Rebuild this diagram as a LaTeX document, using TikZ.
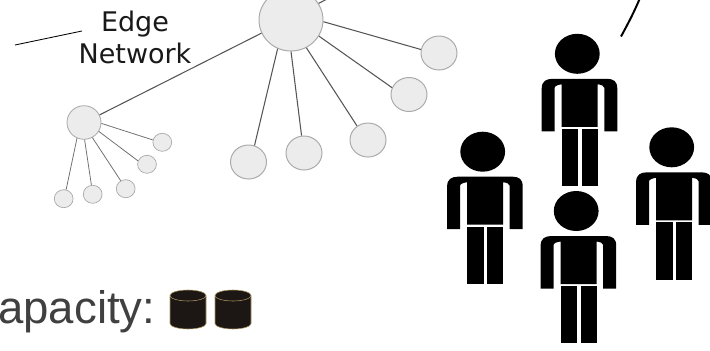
\documentclass[tikz,border=0pt]{standalone}
\usepackage{fontspec}
\usepackage{xcolor}
\usetikzlibrary{shapes.geometric, positioning}
\setmainfont{DejaVu Sans}
\newfontfamily\capfont{Liberation Sans}
\definecolor{cNode}{RGB}{236,236,236}
\definecolor{cNodeLine}{RGB}{170,170,170}
\definecolor{cEdge}{RGB}{85,85,85}
\definecolor{cDisk}{RGB}{28,22,20}
\definecolor{cRim}{RGB}{170,150,95}
\definecolor{cCap}{RGB}{64,64,64}
\tikzset{
	hubnode/.style ={ellipse, draw=cNodeLine, fill=cNode, line width=0.7pt, inner sep=0pt, minimum width=1.6cm, minimum height=1.55cm},
	leafnode/.style={ellipse, draw=cNodeLine, fill=cNode, line width=0.7pt, inner sep=0pt, minimum width=0.9cm, minimum height=0.85cm},
	midnode/.style ={ellipse, draw=cNodeLine, fill=cNode, line width=0.6pt, inner sep=0pt, minimum width=0.85cm, minimum height=0.84cm},
	tipnode/.style ={ellipse, draw=cNodeLine, fill=cNode, line width=0.5pt, inner sep=0pt, minimum width=0.47cm, minimum height=0.45cm},
	edgeline/.style={draw=cEdge, line width=0.75pt},
	thinedge/.style={draw=cEdge!85, line width=0.55pt},
	% one standing figure, origin at the head centre
	person/.pic={
		\fill[black] (0,0) ellipse (22.4 and 20);
		\fill[black] (-35.6,77.5) -- (-35.6,35) .. controls (-35.6,27) and (-31,25.3) .. (-25,25) -- (30,25)
			.. controls (36,25.3) and (40,27) .. (40,35) -- (40,77.5) -- (27,77.5) -- (27,34)
			.. controls (27,32) and (24,31) .. (20.4,30.5) -- (20.4,73) -- (-15.6,73) -- (-15.6,30.5)
			.. controls (-19,31) and (-22.6,32) .. (-22.6,34) -- (-22.6,77.5) -- cycle;
		\fill[black] (-15.6,74.8) rectangle (1,132.4);
		\fill[black] (4.4,74.8) rectangle (20.4,132.4);
	},
}
\begin{document}
\begin{tikzpicture}[x=0.025cm, y=-0.025cm]
	\clip (0,0) rectangle (710,350);
	% edge network
	\node[hubnode] (hub) at (291,20) {};
	\node[leafnode] (la) at (439,53) {};
	\node[leafnode] (lb) at (409,94.5) {};
	\node[leafnode] (lc) at (368,140) {};
	\node[leafnode] (ld) at (304,153) {};
	\node[leafnode] (le) at (248.5,162) {};
	\node[midnode] (mid) at (84,122.5) {};
	\node[tipnode] (ta) at (162.3,142.3) {};
	\node[tipnode] (tb) at (147,164.3) {};
	\node[tipnode] (tc) at (125.7,188.7) {};
	\node[tipnode] (td) at (92.7,194.3) {};
	\node[tipnode] (te) at (63.7,198.7) {};
	\coordinate (hubout) at (333,-4);
	\foreach \a/\n/\b in {-3/la/169, -30/lb/158, -61/lc/128, -90/ld/98, -115/le/70}
		\draw[edgeline] (hub.\a) -- (\n.\b);
	\foreach \a/\n/\b in {-3/ta/166, -31/tb/159, -61/tc/122, -88/td/98, -114/te/75}
		\draw[thinedge] (mid.\a) -- (\n.\b);
	\draw[edgeline] (hub.204) -- (mid.26);
	\draw[edgeline] (hub.31) -- (hubout);
	% label and its leader
	\node[align=center, text=black!90, font=\fontsize{19.2}{22.8}\selectfont] (netlabel) at (135,37) {Edge\\Network};
	\coordinate (leadera) at (15,45);
	\coordinate (leaderb) at (82,31);
	\draw[black, line width=0.6pt] (leadera) -- (leaderb);
	% capacity
	\node[anchor=base west, inner sep=0pt, text=cCap, font=\capfont\fontsize{32.4}{36}\selectfont] (cap) at (-2,323) {apacity:};
	\foreach \x in {170,215} {
		\filldraw[fill=cDisk, draw=cRim, line width=0.4pt] (\x,295.5) -- (\x,323.5) arc (180:0:18 and 5.5) -- (\x+36,295.5) arc (0:-180:18 and 5.5) -- cycle;
		\draw[cRim, line width=0.4pt] (\x,295.5) arc (180:0:18 and 5.5);
	}
	% people
	\pic at (577.3,53.8) {person};
	\pic at (482.7,151.7) {person};
	\pic at (671.7,147.3) {person};
	\pic at (576.2,211) {person};
	\coordinate (curvea) at (621,36.5);
	\coordinate (curveb) at (640,-2);
	\draw[black, line width=1.4pt] (curvea) .. controls (629,22) and (635,10) .. (curveb);
\end{tikzpicture}
\end{document}
